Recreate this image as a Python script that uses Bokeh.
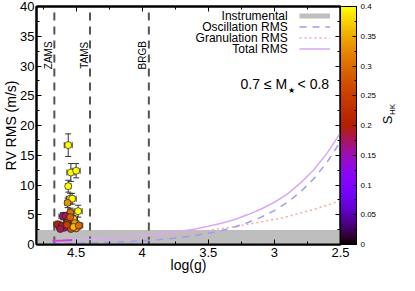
import math
from bokeh.plotting import figure
from bokeh.layouts import row
from bokeh.models import (Range1d, FixedTicker, LinearAxis, ColorBar, LinearColorMapper,
                          Label, Legend, LegendItem, ColumnDataSource, Whisker, TeeHead)
from bokeh.embed import file_html
from bokeh.resources import INLINE

# ---------------- data ----------------
star_logg = [4.56, 4.54, 4.50, 4.56, 4.545, 4.53, 4.565, 4.485, 4.545, 4.60, 4.58, 4.64,
             4.555, 4.52, 4.55, 4.59, 4.53, 4.51, 4.50, 4.54, 4.565, 4.61, 4.57, 4.52,
             4.545, 4.62, 4.48]
star_rms = [16.7, 12.1, 12.4, 9.8, 7.7, 7.7, 7.0, 5.6, 5.4, 4.75, 4.8, 3.4,
            4.2, 4.3, 3.0, 2.8, 3.3, 3.6, 2.7, 2.6, 3.7, 3.1, 3.3, 2.95,
            4.6, 2.6, 3.2]
star_rms_err = [1.9, 1.5, 1.2, 1.0, 0.9, 0.9, 0.8, 1.0, 0.7, 0.6, 0.6, 0.5,
                0.6, 0.6, 0.5, 0.5, 0.5, 0.5, 0.5, 0.4, 0.5, 0.5, 0.5, 0.5,
                0.6, 0.5, 0.5]
star_logg_err = [0.03, 0.03, 0.03, 0.02, 0.03, 0.03, 0.02, 0.03, 0.02, 0.03, 0.02, 0.03,
                 0.03, 0.03, 0.03, 0.03, 0.03, 0.03, 0.03, 0.03, 0.03, 0.03, 0.03, 0.03,
                 0.03, 0.03, 0.03]
star_shk = [0.40, 0.40, 0.40, 0.40, 0.39, 0.40, 0.33, 0.40, 0.30, 0.17, 0.18, 0.21,
            0.28, 0.37, 0.24, 0.17, 0.31, 0.34, 0.32, 0.26, 0.23, 0.19, 0.25, 0.36,
            0.29, 0.18, 0.30]

model_logg = [4.68, 4.6, 4.5, 4.4, 4.3, 4.2, 4.1, 4.0, 3.9, 3.8, 3.7, 3.6, 3.5, 3.4,
              3.3, 3.2, 3.1, 3.0, 2.9, 2.8, 2.7, 2.6, 2.5]
osc_rms = [0.14, 0.17, 0.21, 0.26, 0.32, 0.40, 0.50, 0.63, 0.78, 0.97, 1.2, 1.5, 1.9, 2.35,
           2.95, 3.7, 4.6, 5.7, 7.1, 8.9, 11.1, 13.9, 17.3]
gran_rms = [0.63, 0.69, 0.77, 0.86, 0.97, 1.08, 1.2, 1.35, 1.5, 1.7, 1.9, 2.15, 2.4, 2.7,
            3.0, 3.4, 3.8, 4.2, 4.7, 5.3, 5.9, 6.6, 7.4]
total_rms = [0.65, 0.71, 0.80, 0.90, 1.02, 1.15, 1.30, 1.49, 1.69, 1.96, 2.25, 2.62, 3.06,
             3.58, 4.21, 5.03, 5.97, 7.1, 8.5, 10.4, 12.6, 15.4, 18.8]

mass_logg = [4.68, 4.6, 4.53]
mass_total = [0.65, 0.69, 0.74]

instr_logg = [4.8, 2.5]
instr_rms = [2.45, 2.45]

stage_logg = [4.665, 4.395, 3.95]
stage_names = ["ZAMS", "TAMS", "BRGB"]

x_ticks = [4.5, 4.0, 3.5, 3.0, 2.5]
x_tick_labels = ["4.5", "4", "3.5", "3", "2.5"]
x_minor = [4.75, 4.5, 4.25, 4.0, 3.75, 3.5, 3.25, 3.0, 2.75, 2.5]
y_ticks = [0, 5, 10, 15, 20, 25, 30, 35, 40]
y_minor = [2.5 * i for i in range(17)]
cb_ticks = [0, 0.05, 0.1, 0.15, 0.2, 0.25, 0.3, 0.35, 0.4]
cb_minor = [0.025 * i for i in range(17)]
cb_tick_labels = ["0", "0.05", "0.1", "0.15", "0.2", "0.25", "0.3", "0.35", "0.4"]

legend_names = ["Instrumental", "Oscillation RMS", "Granulation RMS", "Total RMS"]

# ---------------- styling ----------------
FONT = "Liberation Sans"
C_INSTR = "#bebebe"
C_OSC = "#9c9cf6"
C_GRAN = "#f7a8a8"
C_TOT = "#d6aaf7"
C_MASS = "#cf3fd8"
C_STAGE = "#555555"

FIG_H = 275
BORDER_TOP = 6
BORDER_BOTTOM = 31
FRAME_H = FIG_H - BORDER_TOP - BORDER_BOTTOM


def gnuplot_pal(n=256):
    pal = []
    for i in range(n):
        t = i / (n - 1)
        r = math.sqrt(t)
        g = t ** 3
        b = max(0.0, math.sin(2 * math.pi * t))
        pal.append("#%02x%02x%02x" % (int(round(r * 255)), int(round(g * 255)), int(round(b * 255))))
    return pal


mapper = LinearColorMapper(palette=gnuplot_pal(), low=0.0, high=0.4)

p = figure(width=379, height=FIG_H, output_backend="svg", toolbar_location=None,
           x_range=Range1d(4.8, 2.5), y_range=Range1d(0, 40),
           min_border_top=BORDER_TOP, min_border_right=0, min_border_left=0,
           min_border_bottom=BORDER_BOTTOM)
p.background_fill_color = "white"
p.border_fill_color = "white"
p.outline_line_color = "black"
p.outline_line_width = 2
p.grid.visible = False

# instrumental band
p.varea(x=instr_logg, y1=[0, 0], y2=instr_rms, fill_color=C_INSTR)

# evolutionary stage lines
for xs, name in zip(stage_logg, stage_names):
    p.segment(x0=[xs], y0=[0], x1=[xs], y1=[40], line_color=C_STAGE, line_width=2, line_dash="8 6")
    p.add_layout(Label(x=xs, y=31.8, x_offset=-6, text=name, angle=math.pi / 2,
                       text_align="center", text_baseline="middle",
                       text_font=FONT, text_font_size="10px", text_color="black"))

# model curves
p.line(model_logg, gran_rms, line_color=C_GRAN, line_width=1.5, line_dash="2 3")
p.line(model_logg, osc_rms, line_color=C_OSC, line_width=1.5, line_dash="7 6")
p.line(model_logg, total_rms, line_color=C_TOT, line_width=1.5)
p.line(mass_logg, mass_total, line_color=C_MASS, line_width=2)

# stars with error bars
src = ColumnDataSource(dict(
    x=star_logg, y=star_rms, shk=star_shk,
    ylo=[a - b for a, b in zip(star_rms, star_rms_err)],
    yhi=[a + b for a, b in zip(star_rms, star_rms_err)],
    xlo=[a - b for a, b in zip(star_logg, star_logg_err)],
    xhi=[a + b for a, b in zip(star_logg, star_logg_err)],
))
p.add_layout(Whisker(source=src, base="x", lower="ylo", upper="yhi", dimension="height",
                     line_color="#333333", line_width=1,
                     upper_head=TeeHead(size=6, line_color="#333333", line_width=1),
                     lower_head=TeeHead(size=6, line_color="#333333", line_width=1)))
p.add_layout(Whisker(source=src, base="y", lower="xlo", upper="xhi", dimension="width",
                     line_color="#333333", line_width=1,
                     upper_head=TeeHead(size=6, line_color="#333333", line_width=1),
                     lower_head=TeeHead(size=6, line_color="#333333", line_width=1)))
p.scatter("x", "y", source=src, size=7, marker="circle",
          fill_color={"field": "shk", "transform": mapper}, line_color="#222222", line_width=0.7)

# ---------------- axes ----------------
for ax in (p.xaxis[0], p.yaxis[0]):
    ax.major_tick_in = 5
    ax.major_tick_out = 0
    ax.minor_tick_in = 3
    ax.minor_tick_out = 0
    ax.axis_line_width = 2
    ax.major_label_text_font = FONT
    ax.major_label_text_font_size = "13px"
    ax.major_label_text_color = "black"
    ax.axis_label_text_font = FONT
    ax.axis_label_text_font_size = "14px"
    ax.axis_label_text_font_style = "normal"
    ax.axis_label_text_color = "black"
    ax.major_label_standoff = 2
    ax.axis_label_standoff = -2

p.xaxis[0].major_label_standoff = 3
p.xaxis[0].axis_label_standoff = -3
p.xaxis[0].ticker = FixedTicker(ticks=x_ticks, minor_ticks=x_minor)
p.xaxis[0].major_label_overrides = {t: l for t, l in zip(x_ticks, x_tick_labels)}
p.xaxis[0].axis_label = "log(g)"
p.yaxis[0].ticker = FixedTicker(ticks=y_ticks, minor_ticks=y_minor)
p.yaxis[0].axis_label = "RV RMS (m/s)"


def mirror_axis(ticks, minor, standoff):
    return LinearAxis(ticker=FixedTicker(ticks=ticks, minor_ticks=minor),
                      major_label_text_font_size="1px", major_label_text_color=None,
                      major_label_standoff=standoff,
                      major_tick_in=5, major_tick_out=0, minor_tick_in=3, minor_tick_out=0,
                      axis_line_width=2)


p.add_layout(mirror_axis(x_ticks, x_minor, 0), "above")
p.add_layout(mirror_axis(y_ticks, y_minor, 6), "right")

# colour bar
cb = ColorBar(color_mapper=mapper, ticker=FixedTicker(ticks=cb_ticks, minor_ticks=cb_minor),
              major_label_overrides={t: l for t, l in zip(cb_ticks, cb_tick_labels)},
              width=16, height=FRAME_H, location="bottom_right",
              padding=0, margin=0, label_standoff=4,
              bar_line_color="black", bar_line_width=1,
              major_tick_line_color="black", major_tick_in=4, major_tick_out=0,
              minor_tick_line_color="black", minor_tick_in=2, minor_tick_out=0,
              major_label_text_font=FONT, major_label_text_font_size="8px",
              major_label_text_color="black",
              background_fill_alpha=0, border_line_alpha=0)
p.add_layout(cb, "right")

# mass annotation
p.add_layout(Label(x=3.256, y=26.9, text="0.7 \u2264 M", text_align="left", text_baseline="middle",
                   text_font=FONT, text_font_size="14px", text_color="black"))
p.add_layout(Label(x=3.256, y=25.9, x_offset=51, text="\u2605", text_align="center",
                   text_baseline="middle", text_font="DejaVu Sans", text_font_size="8px",
                   text_color="black"))
p.add_layout(Label(x=3.256, y=26.9, x_offset=57, text="< 0.8", text_align="left",
                   text_baseline="middle", text_font=FONT, text_font_size="14px",
                   text_color="black"))

# legend: texts right-aligned, samples to their right
legend_y = [38.4, 36.55, 34.7, 32.85]
for name, ly in zip(legend_names, legend_y):
    p.add_layout(Label(x=2.90, y=ly, text=name, text_align="right", text_baseline="middle",
                       text_font=FONT, text_font_size="12px", text_color="black"))

nan = float("nan")
r1 = p.line(x=[nan], y=[nan], line_color=C_INSTR, line_width=5)
r2 = p.line(x=[nan], y=[nan], line_color=C_OSC, line_width=1.5, line_dash="7 6")
r3 = p.line(x=[nan], y=[nan], line_color=C_GRAN, line_width=1.5, line_dash="2 3")
r4 = p.line(x=[nan], y=[nan], line_color=C_TOT, line_width=1.5)
leg = Legend(items=[LegendItem(label=" ", renderers=[r]) for r in (r1, r2, r3, r4)],
             location="top_right", glyph_width=31, glyph_height=11, label_height=11,
             label_width=6, label_standoff=0, spacing=0, padding=2, margin=2,
             label_text_font_size="6px", background_fill_alpha=0, border_line_alpha=0)
p.add_layout(leg, "center")

# colour-bar title (S_HK) in a narrow companion panel
q = figure(width=20, height=FIG_H, output_backend="svg", toolbar_location=None,
           x_range=Range1d(0, 20), y_range=Range1d(0, FIG_H),
           x_axis_location=None, y_axis_location=None, min_border=0)
q.outline_line_color = None
q.grid.visible = False
q.background_fill_color = "white"
q.border_fill_color = "white"
q.add_layout(Label(x=8, y=144, text="S", angle=math.pi / 2, text_align="center",
                   text_baseline="middle", text_font=FONT, text_font_size="13px",
                   text_color="black"))
q.add_layout(Label(x=12.5, y=156, text="HK", angle=math.pi / 2, text_align="center",
                   text_baseline="middle", text_font=FONT, text_font_size="8px",
                   text_color="black"))

layout = row(p, q)
open("out.html", "w").write(file_html(layout, INLINE))
